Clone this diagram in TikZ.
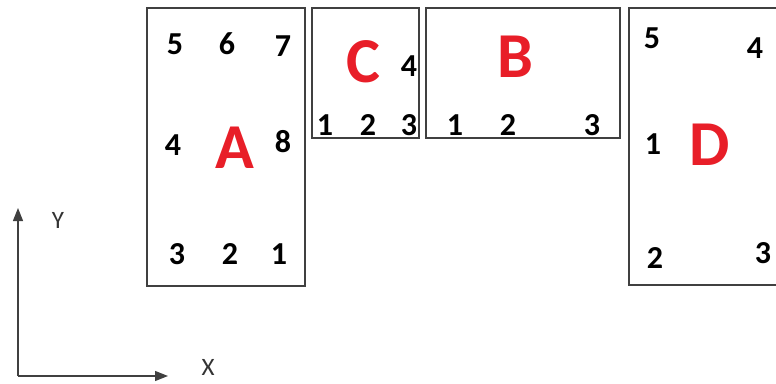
\documentclass[tikz,border=0pt]{standalone}
\usepackage{fontspec}
\setmainfont{Carlito}
\usetikzlibrary{arrows.meta}
\definecolor{tagred}{RGB}{232,30,40}

\begin{document}
\begin{tikzpicture}[x=1pt,y=-1pt,
  box/.style={draw=black!75,line width=1.3pt},
  num/.style={inner sep=0pt,font=\fontsize{32}{32}\selectfont\bfseries},
  tag/.style={inner sep=0pt,text=tagred,font=\fontsize{64}{64}\selectfont\bfseries},
  axislabel/.style={inner sep=0pt,text=black!80,font=\fontsize{25}{25}\selectfont},
  axis/.style={draw=black!75,line width=1.3pt,-{Triangle[length=13pt,width=10pt]}}]
\useasboundingbox (0,0) rectangle (776,383);
\clip (0,0) rectangle (776,383);
% boxes
\draw[box] (147,8) rectangle (305,286);
\draw[box] (312,8) rectangle (419,138);
\draw[box] (426,8) rectangle (620,138);
\draw[box] (629,8) rectangle (800,285);
% box A
\node[tag] (A) at (235,148) {A};
\node[num] (a5) at (175,44) {5};
\node[num] (a6) at (227,44) {6};
\node[num] (a7) at (283,46) {7};
\node[num] (a4) at (173,145) {4};
\node[num] (a8) at (283,142) {8};
\node[num] (a3) at (177,254) {3};
\node[num] (a2) at (230,254) {2};
\node[num] (a1) at (279,254) {1};
% box C
\node[tag] (C) at (363,62) {C};
\node[num] (c4) at (409,66) {4};
\node[num] (c1) at (325,125) {1};
\node[num] (c2) at (368,125) {2};
\node[num] (c3) at (409,125) {3};
% box B
\node[tag] (B) at (515,57) {B};
\node[num] (b1) at (455,125) {1};
\node[num] (b2) at (508,125) {2};
\node[num] (b3) at (592,125) {3};
% box D
\node[tag] (D) at (710,145) {D};
\node[num] (d5) at (652,38) {5};
\node[num] (d4) at (755,48) {4};
\node[num] (d1) at (653,144) {1};
\node[num] (d2) at (655,258) {2};
\node[num] (d3) at (763,253) {3};
% axes
\coordinate (origin) at (18,376);
\coordinate (yend) at (18,208);
\coordinate (xend) at (168,376);
\draw[axis] (origin) -- (yend);
\draw[axis] (origin) -- (xend);
\node[axislabel] (ylab) at (58,220) {Y};
\node[axislabel] (xlab) at (208,367) {X};
\end{tikzpicture}
\end{document}
